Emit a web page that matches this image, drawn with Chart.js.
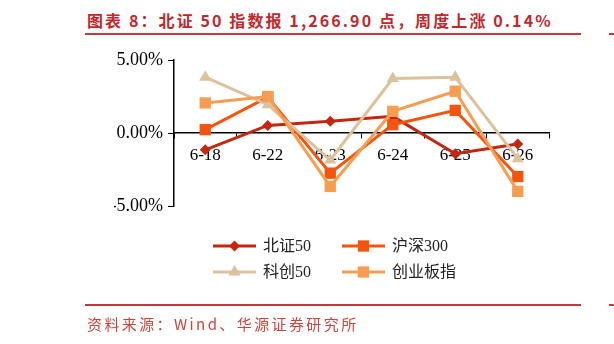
<!DOCTYPE html>
<html>
<head>
<meta charset="utf-8">
<script src="https://cdn.jsdelivr.net/npm/chart.js@4.4.1/dist/chart.umd.min.js"></script>
<style>
  body { margin: 0; background: #fff; }
  #wrap { position: relative; width: 614px; height: 344px; overflow: hidden; }
  #myChart { position: absolute; left: 0; top: 0; }
  .title { position: absolute; left: 87px; top: 9px; font: bold 16px "Noto Sans CJK SC", sans-serif; color: #c0282d; letter-spacing: 2.1px; line-height: 22px; white-space: nowrap; }
  .rule { position: absolute; left: 85px; width: 496px; height: 2px; background: #c8373a; }
  .edge { position: absolute; left: 609px; width: 6px; height: 2px; background: #c8373a; }
  .src { position: absolute; left: 87px; top: 314px; font: 15px "Noto Sans CJK SC", sans-serif; color: #c9463d; letter-spacing: 2.4px; line-height: 20px; white-space: nowrap; }
</style>
</head>
<body>
<div id="wrap">
  <div class="title">图表 8：北证 50 指数报 1,266.90 点，周度上涨 0.14%</div>
  <div class="rule" style="top:33px"></div>
  <div class="edge" style="top:33px"></div>
  <canvas id="myChart" width="614" height="344"></canvas>
  <div class="rule" style="top:304px"></div>
  <div class="edge" style="top:304px"></div>
  <div class="src">资料来源：Wind、华源证券研究所</div>
</div>
<script>
  // 日期
  var dates = ['6-18', '6-22', '6-23', '6-24', '6-25', '6-26'];
  // 日涨跌幅 (%)
  var bz50 = [-1.15, 0.52, 0.80, 1.14, -1.42, -0.76];
  var hs300 = [0.23, 2.45, -2.75, 0.57, 1.55, -2.98];
  var kc50 = [3.82, 1.94, -1.85, 3.73, 3.82, -1.76];
  var cyb = [2.06, 2.50, -3.66, 1.48, 2.86, -4.00];
  var yTicks = [-5, 0, 5];

  var serif = '"Liberation Serif", "Noto Sans CJK SC", serif';

  function marker(ctx, style, x, y, r, color) {
    ctx.fillStyle = color;
    ctx.beginPath();
    if (style === 'rectRot') {
      ctx.moveTo(x, y - r); ctx.lineTo(x + r, y); ctx.lineTo(x, y + r); ctx.lineTo(x - r, y);
    } else if (style === 'triangle') {
      ctx.moveTo(x, y - r); ctx.lineTo(x + r * 0.87, y + r * 0.5); ctx.lineTo(x - r * 0.87, y + r * 0.5);
    } else {
      var s = r * 0.71;
      ctx.rect(x - s, y - s, 2 * s, 2 * s);
    }
    ctx.closePath();
    ctx.fill();
  }

  // 两列图例
  var legend2 = {
    id: 'legend2',
    afterDraw: function (chart) {
      var ctx = chart.ctx, area = chart.chartArea;
      ctx.save();
      chart.data.datasets.forEach(function (ds, i) {
        var x = area.left + 39 + (i % 2) * 129;
        var y = area.bottom + 40 + Math.floor(i / 2) * 26;
        ctx.strokeStyle = ds.borderColor;
        ctx.lineWidth = 3;
        ctx.beginPath();
        ctx.moveTo(x, y);
        ctx.lineTo(x + 43, y);
        ctx.stroke();
        marker(ctx, ds.pointStyle, x + 21.5, y, ds.pointRadius, ds.borderColor);
        ctx.fillStyle = '#222';
        ctx.font = '16px ' + serif;
        ctx.textBaseline = 'middle';
        ctx.fillText(ds.label, x + 50, y + 1);
      });
      ctx.restore();
    }
  };

  var ctx = document.getElementById('myChart');

  new Chart(ctx, {
    type: 'line',
    data: {
      labels: dates,
      datasets: [{
        label: '北证50',
        data: bz50,
        borderColor: '#c4270f',
        backgroundColor: '#c4270f',
        pointStyle: 'rectRot',
        pointRadius: 5.5,
        order: 4
      }, {
        label: '沪深300',
        data: hs300,
        borderColor: '#f4550e',
        backgroundColor: '#f4550e',
        pointStyle: 'rect',
        pointRadius: 8,
        order: 3
      }, {
        label: '科创50',
        data: kc50,
        borderColor: '#dcc19d',
        backgroundColor: '#dcc19d',
        pointStyle: 'triangle',
        pointRadius: 7,
        order: 2
      }, {
        label: '创业板指',
        data: cyb,
        borderColor: '#f79d52',
        backgroundColor: '#f79d52',
        pointStyle: 'rect',
        pointRadius: 8,
        order: 1
      }]
    },
    options: {
      responsive: false,
      animation: false,
      elements: {
        line: { borderWidth: 3, tension: 0 },
        point: { borderWidth: 0, hoverRadius: 8 }
      },
      layout: {
        padding: { left: 114, right: 65, top: 60, bottom: 138 }
      },
      plugins: {
        legend: { display: false },
        tooltip: { enabled: false }
      },
      scales: {
        x: {
          position: { y: 0 },
          offset: true,
          grid: { offset: true, drawOnChartArea: false, tickLength: 5, color: '#000' },
          border: { color: '#000', width: 1.5 },
          ticks: { color: '#000', padding: 7, font: { family: serif, size: 17 } }
        },
        y: {
          min: -5,
          max: 5,
          afterFit: function (scale) { scale.width = 60; },
          afterBuildTicks: function (scale) {
            scale.ticks = yTicks.map(function (v) { return { value: v }; });
          },
          grid: { drawOnChartArea: false, tickLength: 6, color: '#000' },
          border: { color: '#000', width: 1.5 },
          ticks: {
            color: '#000',
            padding: 5,
            font: { family: serif, size: 18 },
            callback: function (v) { return v.toFixed(2) + '%'; }
          }
        }
      }
    },
    plugins: [legend2]
  });
</script>
</body>
</html>
